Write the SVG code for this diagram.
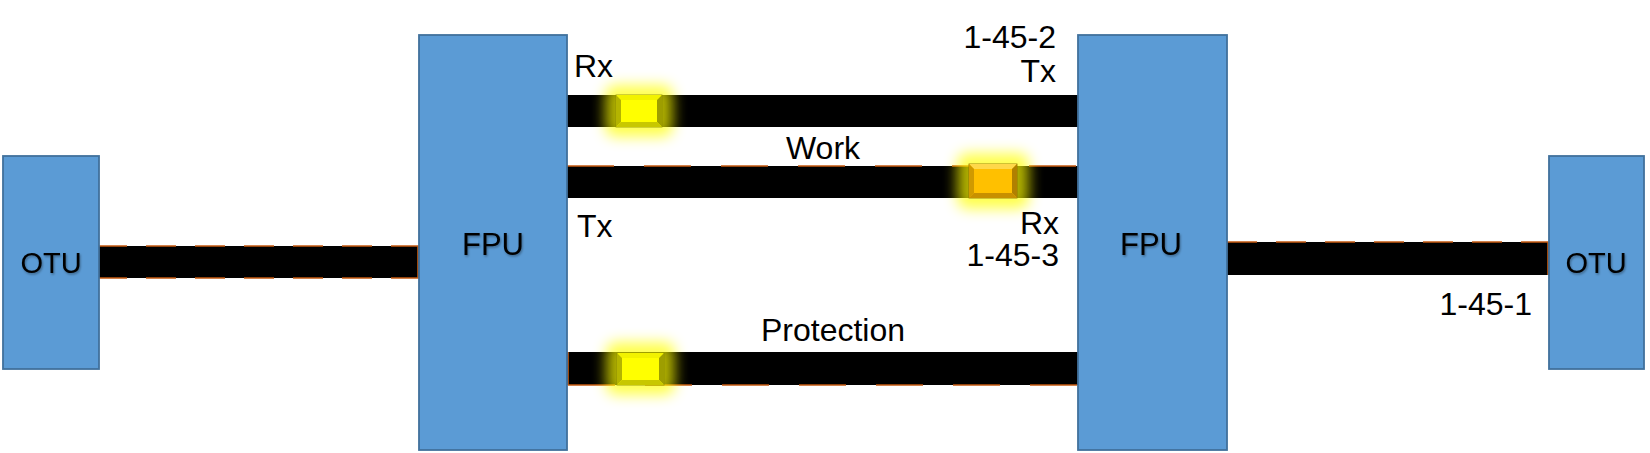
<svg xmlns="http://www.w3.org/2000/svg" width="1650" height="453" viewBox="0 0 1650 453">
<defs>
<style>
.box{fill:#5B9BD5;stroke:#41719C;stroke-width:1.8}
.lbl{font-family:"Liberation Sans",Arial,sans-serif;font-size:32px;fill:#000}
.nl{font-family:"Liberation Sans",Arial,sans-serif;font-size:29px;fill:#000;text-anchor:middle;filter:url(#ts)}
.bar{fill:#000}
.od{stroke:#C55A11;stroke-width:1.6;fill:none}
.glow{fill:#FFFF00;opacity:0.7;filter:url(#gl)}
</style>
<filter id="gl" x="-100%" y="-100%" width="300%" height="300%"><feGaussianBlur stdDeviation="7"/></filter>
<filter id="ts" x="-20%" y="-20%" width="140%" height="140%"><feDropShadow dx="1" dy="1.5" stdDeviation="1" flood-color="#000" flood-opacity="0.35"/></filter>
</defs>

<g id="connectors">
  <g id="bar-left">
    <rect class="bar" x="97" y="246" width="322" height="32"/>
    <line class="od" x1="97" y1="246" x2="419" y2="246" stroke-dasharray="30 19"/>
    <line class="od" x1="97" y1="278" x2="419" y2="278" stroke-dasharray="30 19"/>
    <line class="od" x1="418" y1="246" x2="418" y2="278"/>
  </g>
  <g id="bar-right">
    <rect class="bar" x="1227" y="242" width="322" height="33"/>
    <line class="od" x1="1227" y1="242" x2="1549" y2="242" stroke-dasharray="30 19"/>
    <line class="od" x1="1548" y1="242" x2="1548" y2="275"/>
  </g>
  <g id="bar-tx-rx">
    <rect class="bar" x="567" y="95" width="511" height="32"/>
  </g>
  <g id="bar-work">
    <rect class="bar" x="567" y="166" width="511" height="32"/>
    <line class="od" x1="567" y1="166" x2="1077" y2="166" stroke-dasharray="47 30"/>
  </g>
  <g id="bar-protection">
    <rect class="bar" x="567" y="352" width="511" height="33"/>
    <line class="od" x1="568" y1="385" x2="1078" y2="385" stroke-dasharray="47 30"/>
    <line class="od" x1="568" y1="352" x2="568" y2="385"/>
  </g>
</g>

<g id="otu-left">
  <rect class="box" x="3" y="156" width="96" height="213"/>
  <text class="nl" x="51" y="273">OTU</text>
</g>
<g id="otu-right">
  <rect class="box" x="1549" y="156" width="95" height="213"/>
  <text class="nl" x="1596" y="273">OTU</text>
</g>
<g id="fpu-left">
  <rect class="box" x="419" y="35" width="148" height="415"/>
  <text class="nl" x="493" y="255" style="font-size:31px">FPU</text>
</g>
<g id="fpu-right">
  <rect class="box" x="1078" y="35" width="149" height="415"/>
  <text class="nl" x="1151" y="255" style="font-size:31px">FPU</text>
</g>

<g id="marker-rx-top">
  <rect class="glow" x="605" y="85" width="68" height="52" rx="10"/>
  <rect x="616" y="95" width="46" height="32" fill="#FFFF00" stroke="#8C8C00" stroke-width="0.8"/>
  <polygon points="616,95 662,95 657,100 621,100" fill="#F2F200"/>
  <polygon points="616,95 621,100 621,122 616,127" fill="#B4B400"/>
  <polygon points="662,95 657,100 657,122 662,127" fill="#9E9E00"/>
  <polygon points="616,127 621,122 657,122 662,127" fill="#C8C800"/>
</g>
<g id="marker-work">
  <rect class="glow" x="957" y="153" width="72" height="56" rx="10"/>
  <rect x="969" y="164" width="48" height="34" fill="#FFC000" stroke="#8C6A00" stroke-width="0.8"/>
  <polygon points="969,164 1017,164 1012,169 974,169" fill="#FFD84A"/>
  <polygon points="969,164 974,169 974,193 969,198" fill="#D09A00"/>
  <polygon points="1017,164 1012,169 1012,193 1017,198" fill="#B08000"/>
  <polygon points="969,198 974,193 1012,193 1017,198" fill="#C89000"/>
</g>
<g id="marker-protection">
  <rect class="glow" x="606" y="342" width="69" height="53" rx="10"/>
  <rect x="617" y="353" width="47" height="32" fill="#FFFF00" stroke="#8C8C00" stroke-width="0.8"/>
  <polygon points="617,353 664,353 659,358 622,358" fill="#F2F200"/>
  <polygon points="617,353 622,358 622,380 617,385" fill="#B4B400"/>
  <polygon points="664,353 659,358 659,380 664,385" fill="#9E9E00"/>
  <polygon points="617,385 622,380 659,380 664,385" fill="#C8C800"/>
</g>

<g id="labels">
  <text class="lbl" x="574" y="77">Rx</text>
  <text class="lbl" x="1056" y="48" text-anchor="end">1-45-2</text>
  <text class="lbl" x="1056" y="82" text-anchor="end">Tx</text>
  <text class="lbl" x="823" y="159" text-anchor="middle">Work</text>
  <text class="lbl" x="577" y="237">Tx</text>
  <text class="lbl" x="1059" y="234" text-anchor="end">Rx</text>
  <text class="lbl" x="1059" y="266" text-anchor="end">1-45-3</text>
  <text class="lbl" x="833" y="341" text-anchor="middle">Protection</text>
  <text class="lbl" x="1532" y="315" text-anchor="end">1-45-1</text>
</g>
</svg>
